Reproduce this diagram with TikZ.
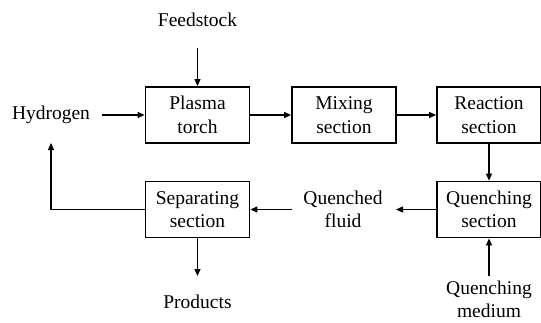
\documentclass[tikz,border=0pt]{standalone}
\usepackage{fontspec}
\setmainfont{Liberation Serif}
\usetikzlibrary{arrows.meta}
\begin{document}
\begin{tikzpicture}[x=1pt,y=-1pt,
  box/.style={draw,line width=1.8pt,minimum width=104pt,minimum height=56pt,align=center,inner sep=0pt,font=\fontsize{19.5}{23.5}\selectfont},
  lbl/.style={align=center,inner sep=0pt,font=\fontsize{19.5}{23.5}\selectfont},
  flow/.style={line width=1.2pt,-{Triangle[length=7pt,width=6pt]}},
  plain/.style={line width=1.2pt}]
\useasboundingbox (0,0) rectangle (541,322);
\node[box] (pt) at (197.5,115) {Plasma\\torch};
\node[box] (mx) at (344,115) {Mixing\\section};
\node[box] (rx) at (489,115) {Reaction\\section};
\node[box] (qs) at (489,209.5) {Quenching\\section};
\node[box] (sp) at (197.5,209.5) {Separating\\section};
\node[lbl] (fs) at (197.5,20) {Feedstock};
\node[lbl] (hy) at (51,115) {Hydrogen};
\node[lbl] (qf) at (343,209.5) {Quenched\\fluid};
\node[lbl] (pr) at (197.5,302) {Products};
\node[lbl,font=\fontsize{19.5}{22.5}\selectfont] (qm) at (489,299.5) {Quenching\\medium};
\coordinate (fsb) at (197.5,48);
\coordinate (hyr) at (102,115);
\coordinate (qfr) at (396,209.5);
\coordinate (qfl) at (292,209.5);
\coordinate (corner) at (51,209.5);
\coordinate (hyb) at (51,143);
\coordinate (prt) at (197.5,276);
\coordinate (qmt) at (489,276);
\draw[flow] (fsb) -- (pt.north);
\draw[flow] (hyr) -- (pt.west);
\draw[flow] (pt.east) -- (mx.west);
\draw[flow] (mx.east) -- (rx.west);
\draw[flow] (rx.south) -- (qs.north);
\draw[flow] (qs.west) -- (qfr);
\draw[flow] (qfl) -- (sp.east);
\draw[flow] (sp.west) -- (corner) -- (hyb);
\draw[flow] (sp.south) -- (prt);
\draw[flow] (qmt) -- (qs.south);
\end{tikzpicture}
\end{document}
